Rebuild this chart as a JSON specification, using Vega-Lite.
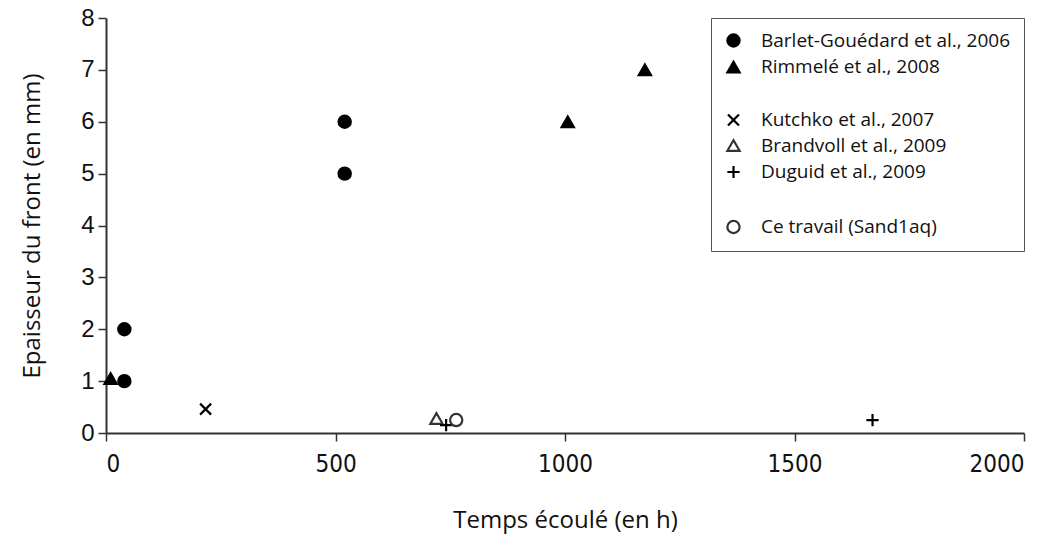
{
  "$schema": "https://vega.github.io/schema/vega-lite/v6.json",
  "width": 918,
  "height": 415,
  "autosize": {"type": "none"},
  "padding": {"left": 106, "top": 18, "right": 32, "bottom": 104},
  "background": "white",
  "config": {
    "view": {"stroke": null},
    "axis": {
      "domainColor": "#333333",
      "domainWidth": 2,
      "tickColor": "#333333",
      "tickWidth": 1.5,
      "tickSize": 8,
      "grid": false,
      "labelColor": "#111111",
      "titleColor": "#111111",
      "titleFontWeight": "normal",
      "titleFont": "Open Sans",
      "titleFontSize": 24
    },
    "legend": {
      "labelFont": "Open Sans",
      "labelFontSize": 19,
      "labelLimit": 400,
      "labelColor": "#111111",
      "symbolSize": 150,
      "symbolStrokeWidth": 2.2,
      "rowPadding": 4.5,
      "padding": 13,
      "strokeColor": "#555555",
      "fillColor": "white",
      "labelOffset": 18
    }
  },
  "data": {
    "values": [
      {"series": "Barlet-Gouédard et al., 2006", "t": 40, "e": 1},
      {"series": "Barlet-Gouédard et al., 2006", "t": 40, "e": 2},
      {"series": "Barlet-Gouédard et al., 2006", "t": 520, "e": 6},
      {"series": "Barlet-Gouédard et al., 2006", "t": 520, "e": 5},
      {"series": "Rimmelé et al., 2008", "t": 10, "e": 1.05},
      {"series": "Rimmelé et al., 2008", "t": 1006, "e": 6},
      {"series": "Rimmelé et al., 2008", "t": 1174, "e": 7},
      {"series": "Kutchko et al., 2007", "t": 217, "e": 0.46},
      {"series": "Brandvoll et al., 2009", "t": 720, "e": 0.28},
      {"series": "Duguid et al., 2009", "t": 741, "e": 0.15},
      {"series": "Duguid et al., 2009", "t": 1670, "e": 0.25},
      {"series": "Ce travail (Sand1aq)", "t": 763, "e": 0.25}
    ]
  },
  "mark": {"type": "point", "filled": true, "size": 150, "strokeWidth": 2.2, "opacity": 1},
  "encoding": {
    "x": {
      "field": "t",
      "type": "quantitative",
      "title": "Temps écoulé (en h)",
      "scale": {"domain": [0, 2000], "nice": false, "zero": false},
      "axis": {
        "values": [0, 500, 1000, 1500, 2000],
        "format": "d",
        "labelFont": "DejaVu Sans Condensed",
        "labelFontSize": 24,
        "labelPadding": 11,
        "titlePadding": 32
      }
    },
    "y": {
      "field": "e",
      "type": "quantitative",
      "title": "Epaisseur du front (en mm)",
      "scale": {"domain": [0, 8], "nice": false},
      "axis": {
        "values": [0, 1, 2, 3, 4, 5, 6, 7, 8],
        "labelFont": "Liberation Sans",
        "labelFontSize": 24,
        "labelPadding": 4,
        "titlePadding": 36
      }
    },
    "shape": {
      "field": "series",
      "type": "nominal",
      "scale": {
        "domain": ["Barlet-Gouédard et al., 2006", "Rimmelé et al., 2008", " ", "Kutchko et al., 2007", "Brandvoll et al., 2009", "Duguid et al., 2009", "  ", "Ce travail (Sand1aq)"],
        "range": ["circle", "triangle-up", "circle", "M-0.9,-0.9L0.9,0.9M-0.9,0.9L0.9,-0.9", "triangle-up", "M-1,0L1,0M0,-1L0,1", "circle", "circle"]
      },
      "legend": {"title": null, "orient": "top-right", "offset": 0}
    },
    "fill": {
      "field": "series",
      "type": "nominal",
      "scale": {
        "domain": ["Barlet-Gouédard et al., 2006", "Rimmelé et al., 2008", " ", "Kutchko et al., 2007", "Brandvoll et al., 2009", "Duguid et al., 2009", "  ", "Ce travail (Sand1aq)"],
        "range": ["black", "black", "transparent", "transparent", "transparent", "transparent", "transparent", "transparent"]
      },
      "legend": {"title": null, "orient": "top-right", "offset": 0}
    },
    "stroke": {
      "field": "series",
      "type": "nominal",
      "scale": {
        "domain": ["Barlet-Gouédard et al., 2006", "Rimmelé et al., 2008", " ", "Kutchko et al., 2007", "Brandvoll et al., 2009", "Duguid et al., 2009", "  ", "Ce travail (Sand1aq)"],
        "range": ["black", "black", "transparent", "black", "#333333", "black", "transparent", "#333333"]
      },
      "legend": {"title": null, "orient": "top-right", "offset": 0}
    }
  }
}
